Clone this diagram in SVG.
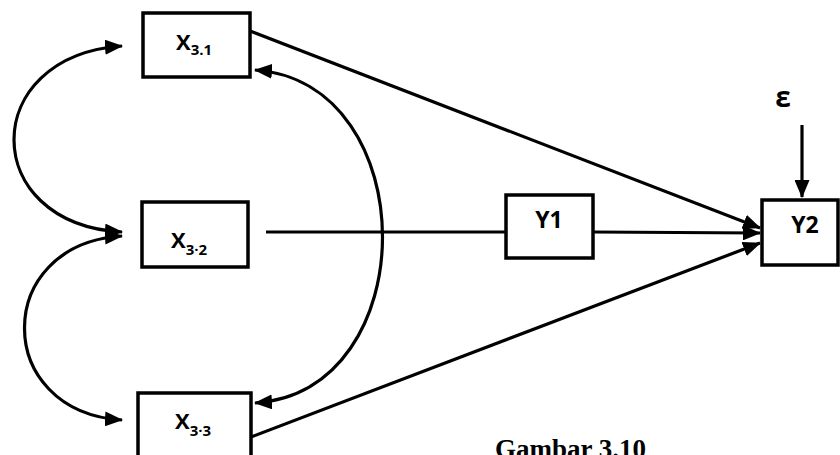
<svg xmlns="http://www.w3.org/2000/svg" width="840" height="455" viewBox="0 0 840 455">
<defs>
<marker id="ah" viewBox="0 0 18 15" refX="17" refY="7.5" markerWidth="18" markerHeight="15" markerUnits="userSpaceOnUse" orient="auto-start-reverse">
<path d="M0,0 L18,7.5 L0,15 Z" fill="#000"/>
</marker>
<style>
.box{fill:#fff;stroke:#000;stroke-width:3.5}
.lbl{font-family:"Open Sans","Liberation Sans",sans-serif;font-weight:bold;font-size:22px;fill:#000}
.sub{font-size:15px}
.big{font-size:23px}
.eps{font-size:28px}
.ln{fill:none;stroke:#000;stroke-width:3.2}
</style>
</defs>
<rect width="840" height="455" fill="#fff"/>
<g id="connectors">
<path class="ln" d="M122,46 C-22,56 -22,224 122,232" marker-start="url(#ah)" marker-end="url(#ah)"/>
<path class="ln" d="M122,236 C-8,244 -8,412 122,420" marker-start="url(#ah)" marker-end="url(#ah)"/>
<path class="ln" d="M255,70 C425,82 425,392 255,403" marker-start="url(#ah)" marker-end="url(#ah)"/>
<path class="ln" d="M250,31 L760,228" marker-end="url(#ah)"/>
<path class="ln" d="M266,232 L506,232"/>
<path class="ln" d="M593,232 L760,233" marker-end="url(#ah)"/>
<path class="ln" d="M251,437 L760,243" marker-end="url(#ah)"/>
<path class="ln" d="M802,125 L802,197" marker-end="url(#ah)"/>
</g>
<g id="x31">
<rect class="box" x="143" y="13" width="107" height="64"/>
<text class="lbl" x="176" y="50">X<tspan class="sub" dy="5">3.1</tspan></text>
</g>
<g id="x32">
<rect class="box" x="142" y="202" width="106" height="65"/>
<text class="lbl" x="171" y="248">X<tspan class="sub" dy="7">3·2</tspan></text>
</g>
<g id="x33">
<rect class="box" x="138" y="393" width="113" height="70"/>
<text class="lbl" x="175" y="429">X<tspan class="sub" dy="7">3·3</tspan></text>
</g>
<g id="y1">
<rect class="box" x="506" y="195" width="87" height="63"/>
<text class="lbl big" x="549" y="228" text-anchor="middle">Y1</text>
</g>
<g id="y2">
<rect class="box" x="762" y="200" width="76" height="65"/>
<text class="lbl big" x="805" y="233" text-anchor="middle">Y2</text>
</g>
<g id="eps">
<text class="lbl eps" x="783" y="107" text-anchor="middle">ε</text>
</g>
<text x="495" y="458" font-family="'Liberation Serif',serif" font-weight="bold" font-size="27" fill="#000">Gambar 3.10</text>
</svg>
